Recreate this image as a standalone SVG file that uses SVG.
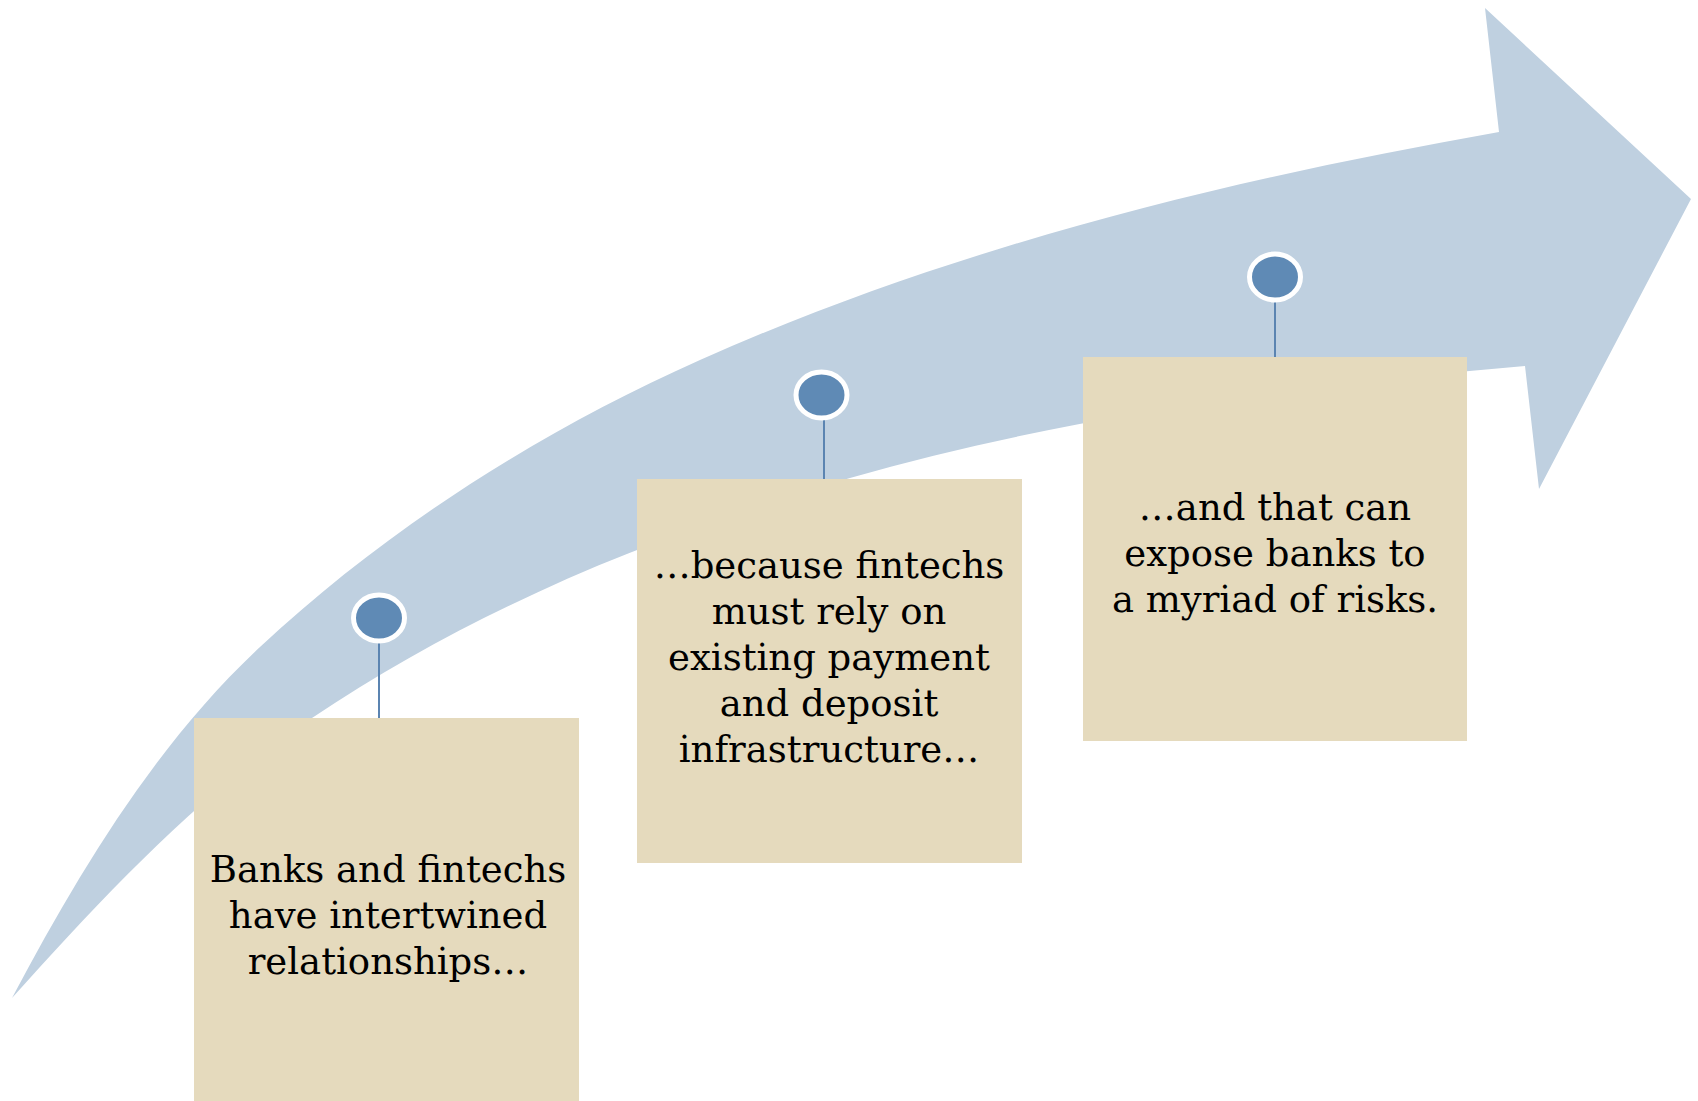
<svg xmlns="http://www.w3.org/2000/svg" width="1698" height="1101" viewBox="0 0 1698 1101">
  <style>
    .band { fill: #BFD0E0; }
    .card { fill: #E5DABD; }
    .pin { fill: #5F8AB5; stroke: #FFFFFF; stroke-width: 5; }
    .stem { stroke: #5B84B1; stroke-width: 2; fill: none; }
    .label { font-family: "DejaVu Serif", "Liberation Serif", serif; font-size: 37px; fill: #000000; text-anchor: middle; }
  </style>

  <!-- curved progress arrow: outer edge, head, then inner edge back to the tail -->
  <g id="arrow">
    <path class="band" d="M12,998
      C79.1,871.7 155.4,744.5 260,647
      C388,527.7 540.1,431.2 700,360
      C953,247.3 1226.2,180.1 1499,132
      L1485,8 L1691,199 L1539,489 L1525,366
      C1297.9,385.9 1069.2,415.2 850,478
      C661.6,532 474.5,608.4 312,718
      C198.4,794.6 103.7,896.2 12,998 Z"/>
  </g>

  <!-- stems from the markers down to the cards -->
  <g id="connectors">
    <line class="stem" x1="379" y1="643" x2="379" y2="718"/>
    <line class="stem" x1="824" y1="420" x2="824" y2="479"/>
    <line class="stem" x1="1275" y1="302" x2="1275" y2="357"/>
  </g>

  <g id="step1">
    <ellipse class="pin" cx="379" cy="618" rx="25.5" ry="23"/>
    <rect class="card" x="194" y="718" width="385" height="384"/>
    <text class="label" x="388" y="882">Banks and fintechs</text>
    <text class="label" x="388" y="928">have intertwined</text>
    <text class="label" x="388" y="974">relationships…</text>
  </g>

  <g id="step2">
    <ellipse class="pin" cx="821.5" cy="395" rx="25.5" ry="23"/>
    <rect class="card" x="637" y="479" width="385" height="384"/>
    <text class="label" x="829" y="578">…because fintechs</text>
    <text class="label" x="829" y="624">must rely on</text>
    <text class="label" x="829" y="670">existing payment</text>
    <text class="label" x="829" y="716">and deposit</text>
    <text class="label" x="829" y="762">infrastructure…</text>
  </g>

  <g id="step3">
    <ellipse class="pin" cx="1275" cy="277" rx="25.5" ry="23"/>
    <rect class="card" x="1083" y="357" width="384" height="384"/>
    <text class="label" x="1275" y="520">…and that can</text>
    <text class="label" x="1275" y="566">expose banks to</text>
    <text class="label" x="1275" y="612">a myriad of risks.</text>
  </g>
</svg>
